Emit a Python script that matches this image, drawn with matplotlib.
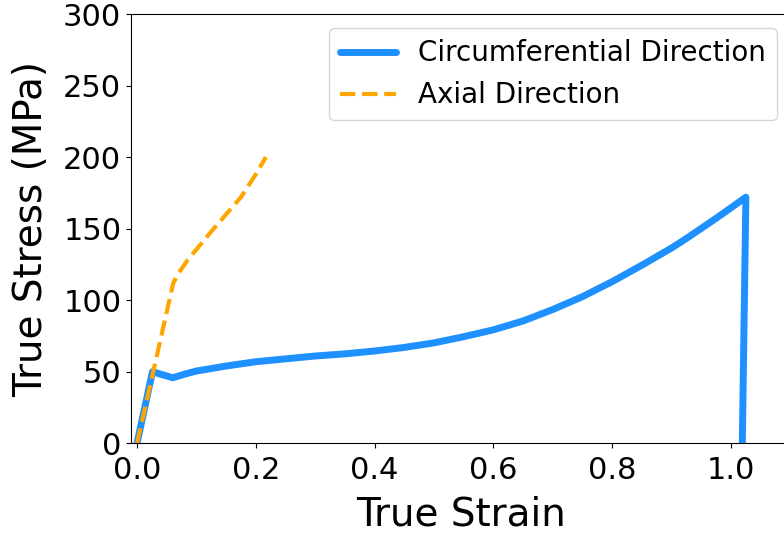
import matplotlib
matplotlib.use("Agg")
import matplotlib.pyplot as plt

# Circumferential direction (true strain, true stress MPa)
circ_strain = [0.0, 0.026, 0.06, 0.08, 0.10, 0.15, 0.20, 0.25, 0.30, 0.35, 0.40, 0.45,
               0.50, 0.55, 0.60, 0.65, 0.70, 0.75, 0.80, 0.85, 0.90, 0.925, 0.95,
               0.975, 1.00, 1.025, 1.019]
circ_stress = [0.0, 50.0, 45.8, 48.3, 50.5, 54.0, 57.0, 59.0, 61.0, 62.5, 64.5, 67.0,
               70.2, 74.5, 79.3, 85.5, 93.5, 102.5, 113.0, 124.5, 136.5, 143.2, 150.2,
               157.3, 164.6, 172.0, 0.0]

# Axial direction
axial_strain = [0.0, 0.061, 0.07, 0.085, 0.10, 0.125, 0.15, 0.175, 0.20, 0.217]
axial_stress = [0.0, 112.0, 119.0, 128.0, 135.5, 148.0, 160.0, 172.0, 188.0, 200.0]

labels = ["Circumferential Direction", "Axial Direction"]
xticks = [0.0, 0.2, 0.4, 0.6, 0.8, 1.0]
yticks = [0, 50, 100, 150, 200, 250, 300]

fig = plt.figure(figsize=(7.84, 5.33), dpi=100)
ax = fig.add_axes([0.1672, 0.1683, 0.841, 0.8054])

ax.plot(circ_strain, circ_stress, color="#1E90FF", lw=5, label=labels[0],
        solid_joinstyle="round", solid_capstyle="round")
ax.plot(axial_strain, axial_stress, color="orange", lw=3, ls="--", label=labels[1])

ax.set_xlim(-0.01, 1.1)
ax.set_ylim(0, 300)
ax.set_xticks(xticks)
ax.set_yticks(yticks)
ax.set_xticklabels([f"{v:.1f}" for v in xticks])
ax.tick_params(labelsize=22)
ax.tick_params(axis="x", pad=5.5)
ax.set_xlabel("True Strain", fontsize=28, labelpad=8)
ax.set_ylabel("True Stress (MPa)", fontsize=28, labelpad=9)

ax.legend(loc="upper right", bbox_to_anchor=(0.991, 0.947),
          bbox_transform=fig.transFigure, borderaxespad=0, fontsize=20,
          handlelength=2.0)

fig.savefig("out.png", dpi=100)
